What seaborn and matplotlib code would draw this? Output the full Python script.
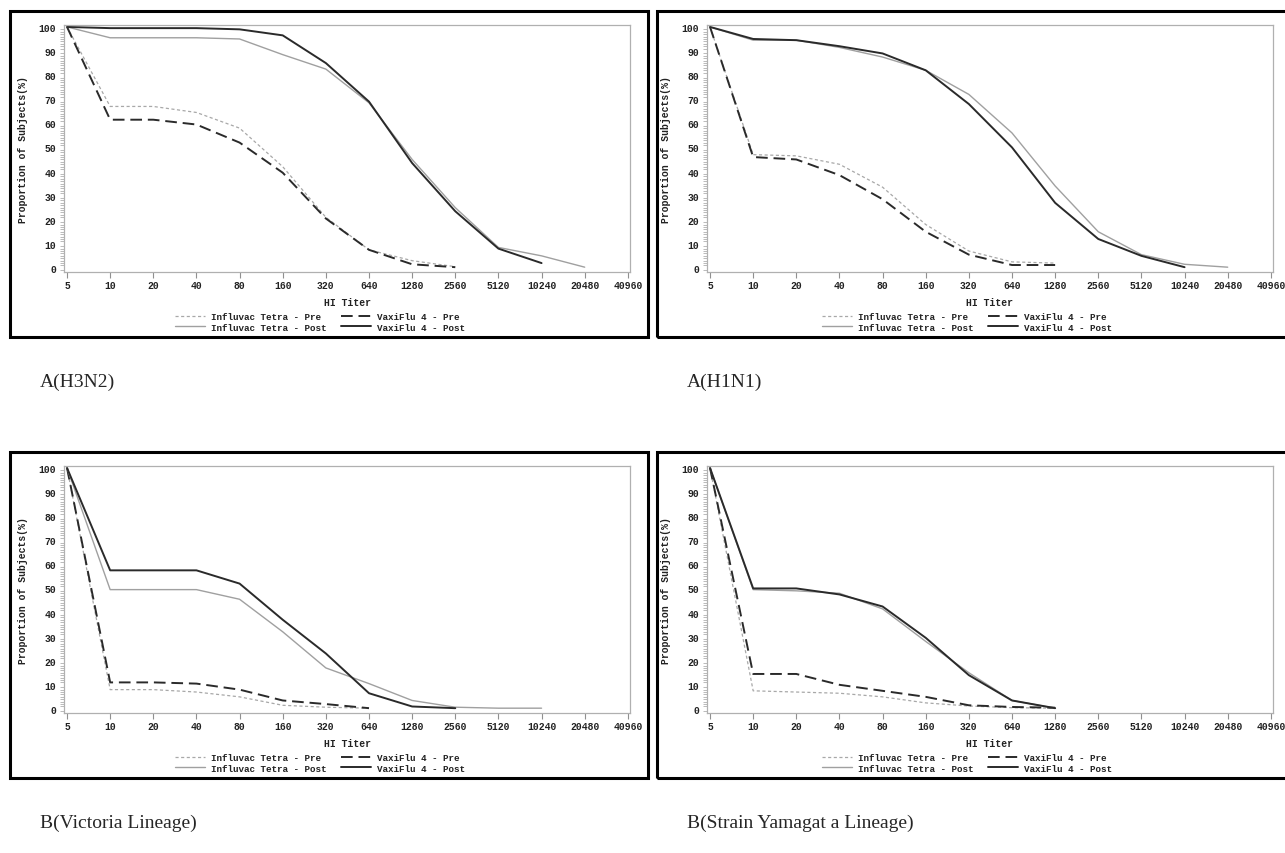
import pandas as pd
import seaborn as sns
import matplotlib.pyplot as plt
import numpy as np
from matplotlib.patches import Rectangle
from matplotlib.lines import Line2D
from matplotlib.ticker import MultipleLocator

# Titulos del eje X (titulo HI)
titers = ["5", "10", "20", "40", "80", "160", "320", "640", "1280",
          "2560", "5120", "10240", "20480", "40960"]

series_names = ["Influvac Tetra - Pre", "VaxiFlu 4 - Pre",
                "Influvac Tetra - Post", "VaxiFlu 4 - Post"]

# A(H3N2)
h3n2_inf_pre = [100, 67, 67, 64.5, 58, 42, 21, 7.5, 3, 0.5]
h3n2_vax_pre = [100, 61.5, 61.5, 59.5, 52, 39.5, 20.5, 7.5, 1.5, 0.3]
h3n2_inf_post = [100, 95.5, 95.5, 95.5, 95, 88.5, 82.5, 68.5, 45, 25, 8.5, 5, 0.3]
h3n2_vax_post = [100, 99.5, 99.5, 99.5, 99, 96.5, 85, 69, 43.5, 23.5, 8, 2]

# A(H1N1)
h1n1_inf_pre = [100, 47, 46.5, 43, 33.5, 18, 7, 2.5, 2]
h1n1_vax_pre = [100, 46, 45, 38.5, 28.5, 15, 5.5, 1.2, 1.2]
h1n1_inf_post = [100, 94.5, 94.5, 91.5, 87.5, 82, 72, 56, 34, 15, 5.5, 1.5, 0.3]
h1n1_vax_post = [100, 95, 94.5, 92, 89, 82, 68, 50, 27, 12, 5, 0.3]

# B(Victoria)
vic_inf_pre = [100, 8, 8, 7, 5, 1.5, 0.7, 0.3]
vic_vax_pre = [100, 11, 11, 10.5, 8, 3.5, 2, 0.3]
vic_inf_post = [100, 49.5, 49.5, 49.5, 45.5, 32, 17, 10.5, 3.5, 0.7, 0.3, 0.3]
vic_vax_post = [100, 57.5, 57.5, 57.5, 52, 37, 23, 6.5, 1, 0.3]

# B(Yamagata)
yam_inf_pre = [100, 7.5, 7, 6.5, 5, 2.5, 1.2, 0.5, 0.3]
yam_vax_pre = [100, 14.5, 14.5, 10, 7.5, 5, 1.5, 0.8, 0.5]
yam_inf_post = [100, 49.5, 49, 48, 41.5, 28, 15, 3.5, 0.3]
yam_vax_post = [100, 50, 50, 47.5, 42.5, 29.5, 14, 3.5, 0.3]

panels = [
    ("A(H3N2)", [h3n2_inf_pre, h3n2_vax_pre, h3n2_inf_post, h3n2_vax_post]),
    ("A(H1N1)", [h1n1_inf_pre, h1n1_vax_pre, h1n1_inf_post, h1n1_vax_post]),
    ("B(Victoria Lineage)", [vic_inf_pre, vic_vax_pre, vic_inf_post, vic_vax_post]),
    ("B(Strain Yamagat a Lineage)", [yam_inf_pre, yam_vax_pre, yam_inf_post, yam_vax_post]),
]

# estilos de linea
styles = {
    "Influvac Tetra - Pre": dict(color="#a8a8a8", lw=0.9, ls=(0, (2.5, 2))),
    "VaxiFlu 4 - Pre": dict(color="#2a2a2a", lw=1.4, ls=(0, (6, 3))),
    "Influvac Tetra - Post": dict(color="#a0a0a0", lw=1.0, ls="-"),
    "VaxiFlu 4 - Post": dict(color="#2a2a2a", lw=1.4, ls="-"),
}

sns.set_style("white")
W, H = 1285, 854
fig = plt.figure(figsize=(W / 100, H / 100), dpi=100)

mono = "Liberation Mono"
serif = "Liberation Serif"

# posiciones (pixeles) de cada panel: caja exterior y ejes
box_x = [10, 657]
box_y = [12, 453]
ax_x = [64, 707]

for i, (caption, data) in enumerate(panels):
    col, row = i % 2, i // 2
    bx, by = box_x[col], box_y[row]
    bw = 638 if col == 0 else 640
    fig.patches.append(Rectangle((bx / W, 1 - (by + 326) / H), bw / W, 326 / H,
                                 transform=fig.transFigure, fill=False,
                                 lw=2.2, ec="black", zorder=0))
    ax_top = by + 14
    ax = fig.add_axes([ax_x[col] / W, 1 - (ax_top + 247) / H, 566 / W, 247 / H])

    for name, vals in zip(series_names, data):
        st = styles[name]
        sns.lineplot(x=np.arange(len(vals)), y=vals, ax=ax, color=st["color"],
                     lw=st["lw"], linestyle=st["ls"])

    ax.set_xlim(-0.07, 13.05)
    ax.set_ylim(-1.7, 100.8)
    ax.set_xticks(np.arange(len(titers)))
    ax.set_xticklabels(titers)
    ax.set_yticks(np.arange(0, 101, 10))
    ax.yaxis.set_minor_locator(MultipleLocator(1))
    for s in ax.spines.values():
        s.set_color("#b0b0b0")
        s.set_linewidth(0.9)
    ax.tick_params(axis="both", which="major", length=4, width=0.8,
                   color="#909090", labelsize=7, pad=1.5)
    ax.tick_params(axis="y", which="minor", left=True, length=3, width=0.6,
                   color="#b0b0b0")
    ax.tick_params(axis="x", bottom=True)
    for lab in ax.get_xticklabels() + ax.get_yticklabels():
        lab.set_fontfamily(mono)
        lab.set_fontweight("bold")
        lab.set_color("#222222")
    ax.set_xlabel("HI Titer", fontfamily=mono, fontweight="bold", fontsize=7,
                  labelpad=5, color="#222222")
    ax.set_ylabel("Proportion of Subjects(%)", fontfamily=mono, fontweight="bold",
                  fontsize=7, labelpad=8, color="#222222")

    handles = [Line2D([], [], color=styles[n]["color"], lw=styles[n]["lw"],
                      ls=styles[n]["ls"]) for n in series_names]
    # orden: columna 1 Influvac, columna 2 VaxiFlu
    order = [0, 2, 1, 3]
    leg = ax.legend([handles[k] for k in order], [series_names[k] for k in order],
                    ncol=2, loc="center", frameon=False,
                    bbox_to_anchor=((bx + 310) / W, 1 - (by + 311) / H),
                    bbox_transform=fig.transFigure,
                    prop={"family": mono, "weight": "bold", "size": 6.7},
                    handlelength=3.2, handletextpad=0.6, columnspacing=1.6,
                    labelspacing=0.15)
    for t in leg.get_texts():
        t.set_color("#222222")

    fig.text((bx + 30) / W, 1 - (by + 370) / H, caption, fontfamily=serif,
             fontsize=14, ha="left", va="center")

fig.savefig("out.png", dpi=100)
